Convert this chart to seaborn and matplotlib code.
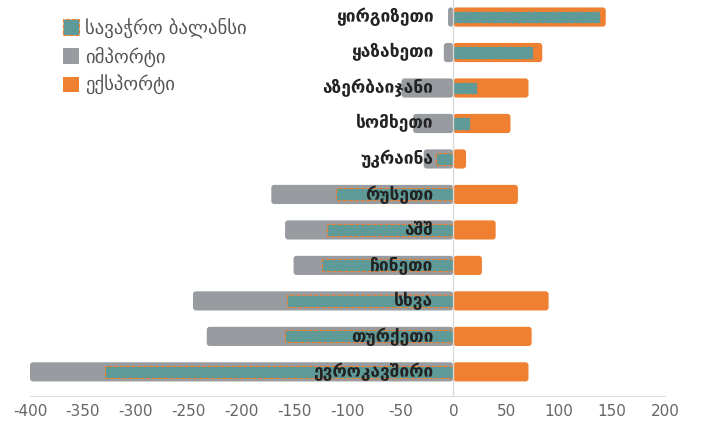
import pandas as pd
import matplotlib.pyplot as plt
import seaborn as sns
from matplotlib.patches import Patch, FancyBboxPatch, Rectangle

countries = ["ყირგიზეთი", "ყაზახეთი", "აზერბაიჯანი", "სომხეთი", "უკრაინა", "რუსეთი",
             "აშშ", "ჩინეთი", "სხვა", "თურქეთი", "ევროკავშირი"]
imports = [-5, -9, -49, -38, -28, -172, -159, -151, -246, -233, -400]
exports = [144, 84, 71, 54, 12, 61, 40, 27, 90, 74, 71]
balance = [139, 75, 22, 16, -16, -111, -119, -124, -157, -159, -329]

GREY = "#989ca0"
ORANGE = "#ef7f31"
TEAL = "#5e9a97"

df = pd.DataFrame({"country": countries, "import": imports,
                   "export": exports, "balance": balance})

sns.set_style("white")
plt.rcParams["font.family"] = ["DejaVu Sans"]
plt.rcParams["axes.unicode_minus"] = False

fig = plt.figure(figsize=(7.02, 4.21), dpi=100)
ax = fig.add_axes([30 / 702, 25 / 421, 635 / 702, 396 / 421])

sns.barplot(df, y="country", x="export", color=ORANGE, width=0.54,
            saturation=1, ax=ax, zorder=2)
sns.barplot(df, y="country", x="import", color=GREY, width=0.54,
            saturation=1, ax=ax, zorder=2)
n_round = len(ax.patches)
sns.barplot(df, y="country", x="balance", color=TEAL, width=0.34,
            saturation=1, ax=ax, zorder=3, edgecolor=ORANGE,
            linewidth=0.8, linestyle="--")

ax.set_xlim(-400, 200)
ax.set_ylim(10.68, -0.48)

# rounded corners for import / export bars
x_per_px = 600 / 635
y_per_px = 11.16 / 396
for p in list(ax.patches)[:n_round]:
    if not isinstance(p, Rectangle):
        continue
    x, y, w, h = p.get_x(), p.get_y(), p.get_width(), p.get_height()
    if w < 0:
        x, w = x + w, -w
    if w == 0:
        continue
    r = min(3 * x_per_px, w / 2)
    fb = FancyBboxPatch((x, y), w, h, boxstyle=f"round,pad=0,rounding_size={r}",
                        mutation_aspect=y_per_px / x_per_px,
                        facecolor=p.get_facecolor(), edgecolor="none",
                        zorder=p.get_zorder())
    p.remove()
    ax.add_patch(fb)

ax.axvline(0, color="#d8d8d8", lw=1, zorder=4)

for i, name in enumerate(countries):
    ax.annotate(name, (0, i), xytext=(-20, 0), textcoords="offset pixels",
                ha="right", va="center", fontsize=12.5, fontweight="bold",
                color="#222222", zorder=5)

ax.set_xlabel("")
ax.set_ylabel("")
ax.set_yticks([])
ax.set_xticks(range(-400, 201, 50))
ax.tick_params(axis="x", colors="#dddddd", labelcolor="#666666",
               labelsize=11, length=4, width=1, direction="out", pad=2)
for s in ["left", "top", "right"]:
    ax.spines[s].set_visible(False)
ax.spines["bottom"].set_color("#dddddd")

handles = [
    Patch(facecolor=TEAL, edgecolor=ORANGE, linestyle="--", linewidth=0.8),
    Patch(facecolor=GREY, edgecolor="none"),
    Patch(facecolor=ORANGE, edgecolor="none"),
]
labels = ["სავაჭრო ბალანსი", "იმპორტი", "ექსპორტი"]
fig.legend(handles, labels, loc="upper left", bbox_to_anchor=(0.065, 0.998),
           frameon=False, fontsize=13.5, labelcolor="#555555",
           handlelength=0.9, handleheight=0.9, handletextpad=0.3,
           labelspacing=0.45)

fig.savefig("out.png", dpi=100)
